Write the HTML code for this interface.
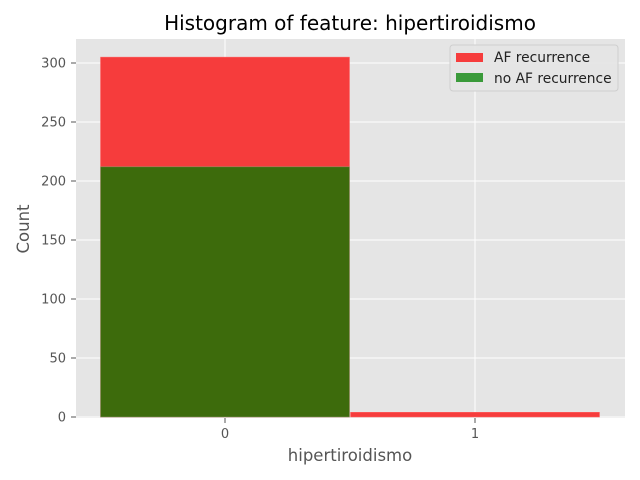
<!DOCTYPE html>
<html><head><meta charset="utf-8"><style>body{margin:0;background:#fff}svg{display:block;font-family:"DejaVu Sans","Liberation Sans",sans-serif}</style></head>
<body>
<svg id="chart" width="640" height="480">
<rect x="76" y="39" width="549" height="379" fill="#e5e5e5"/>
<g id="grid"></g><g id="bars"></g><g id="ticks"></g>
<text x="350" y="30" font-size="20" text-anchor="middle" fill="#000">Histogram of feature: hipertiroidismo</text>
<text x="350" y="461" font-size="16.5" text-anchor="middle" fill="#555">hipertiroidismo</text>
<text transform="translate(29,229) rotate(-90)" font-size="16.5" text-anchor="middle" fill="#555">Count</text>
<g>
<rect x="450" y="45" width="168" height="46" rx="3" fill="#e5e5e5" stroke="#ccc" opacity="0.9"/>
<rect x="456" y="53" width="27" height="9" fill="#f63c3c"/>
<text x="494" y="62" font-size="13.8" fill="#222">AF recurrence</text>
<rect x="456" y="73" width="27" height="9" fill="#3a9a3a"/>
<text x="494" y="83" font-size="13.8" fill="#222">no AF recurrence</text>
</g>
</svg>
<script>
const categories=[0,1];
const afValues=[305,4];
const noAfValues=[212,0];
const yTicks=[0,50,100,150,200,250,300];
const xTicks=[0,1];
const NS="http://www.w3.org/2000/svg";
const X=v=>225+(v)*250;
const Y=v=>417-v*(354/300);
function mk(t,a,p){const e=document.createElementNS(NS,t);for(const k in a)e.setAttribute(k,a[k]);document.getElementById(p).appendChild(e);return e;}
yTicks.forEach(t=>{
 const g=mk('line',{x1:76,x2:625,y1:Y(t),y2:Y(t),stroke:'#fff','stroke-width':1},'grid');
 
 
 mk('line',{x1:71,x2:76,y1:Y(t),y2:Y(t),stroke:'#555'},'ticks');
 const l=mk('text',{x:66,y:Y(t)+4.5,'font-size':13,'text-anchor':'end',fill:'#555'},'ticks');l.textContent=t;
 
 
});
xTicks.forEach(t=>{
 const g=mk('line',{x1:X(t),x2:X(t),y1:39,y2:418,stroke:'#fff'},'grid');
 
 
 mk('line',{x1:X(t),x2:X(t),y1:418,y2:423,stroke:'#555'},'ticks');
 const l=mk('text',{x:X(t),y:438,'font-size':13,'text-anchor':'middle',fill:'#555'},'ticks');l.textContent=t;
 
 
});
categories.forEach((c,i)=>{
 const x0=X(c-0.5),w=250;
 if(afValues[i]>0){const r=mk('rect',{x:x0+0.5,y:Y(afValues[i]),width:w-1,height:Y(0)-Y(afValues[i]),fill:'#f63c3c',stroke:'#f66','stroke-width':0.5},'bars');
 
 }
 if(noAfValues[i]>0){const r=mk('rect',{x:x0+0.5,y:Y(noAfValues[i]),width:w-1,height:Y(0)-Y(noAfValues[i]),fill:'#3d6b0c',stroke:'#8a9a70','stroke-width':0.5},'bars');
 
 }
});
</script>
</body></html>
